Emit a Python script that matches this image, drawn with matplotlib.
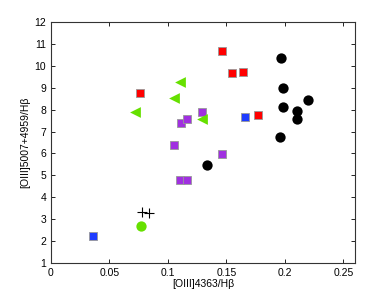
import matplotlib
matplotlib.use("Agg")
import matplotlib.pyplot as plt

plt.rcParams['font.family'] = ['Liberation Sans', 'DejaVu Sans']

# points
red_x = [0.076, 0.146, 0.155, 0.164, 0.177]
red_y = [8.74, 10.69, 9.65, 9.73, 7.76]
blue_x = [0.166, 0.036]
blue_y = [7.67, 2.25]
tri_x = [0.0715, 0.105, 0.110, 0.129]
tri_y = [7.88, 8.52, 9.27, 7.59]
gcirc_x = [0.077]
gcirc_y = [2.68]
purple_x = [0.111, 0.116, 0.105, 0.129, 0.110, 0.116, 0.146]
purple_y = [7.41, 7.59, 6.40, 7.90, 4.77, 4.81, 5.99]
black_x = [0.197, 0.198, 0.198, 0.220, 0.210, 0.210, 0.196, 0.133]
black_y = [10.34, 8.97, 8.14, 8.43, 7.96, 7.59, 6.75, 5.49]
plus_x = [0.078, 0.084]
plus_y = [3.34, 3.30]

xticks = [0, 0.05, 0.1, 0.15, 0.2, 0.25]
xticklabels = ['0', '0.05', '0.1', '0.15', '0.2', '0.25']
yticks = list(range(1, 13))

fig = plt.figure(figsize=(3.92, 2.96), dpi=100)
ax = fig.add_axes([0.130, 0.111, 0.776, 0.815])

sq = dict(marker='s', s=36, edgecolors='#999999', linewidths=0.6, zorder=3)
ax.scatter(red_x, red_y, c='#ff0000', **sq)
ax.scatter(blue_x, blue_y, c='#1e3cff', **sq)
ax.scatter(purple_x, purple_y, c='#a030e0', **sq)
ax.scatter(tri_x, tri_y, marker='<', s=60, c='#66e000', linewidths=0, zorder=3)
ax.scatter(gcirc_x, gcirc_y, marker='o', s=55, c='#66e000', linewidths=0, zorder=3)
ax.scatter(black_x, black_y, marker='o', s=55, c='black', linewidths=0, zorder=3)
ax.scatter(plus_x, plus_y, marker='+', s=50, c='black', linewidths=0.8, zorder=3)

ax.set_xlim(0, 0.26)
ax.set_ylim(1, 12)
ax.set_xticks(xticks)
ax.set_xticklabels(xticklabels)
ax.set_yticks(yticks)
ax.tick_params(direction='in', top=True, right=True, labelsize=7.5, length=3, width=0.6)
for sp in ax.spines.values():
    sp.set_linewidth(0.8)
    sp.set_color('#333333')
ax.set_xlabel('[OIII]4363/H\u03b2', fontsize=7.5, labelpad=1)
ax.set_ylabel('[OIII]5007+4959/H\u03b2', fontsize=7.5, labelpad=3)

fig.savefig('out.png', dpi=100)
